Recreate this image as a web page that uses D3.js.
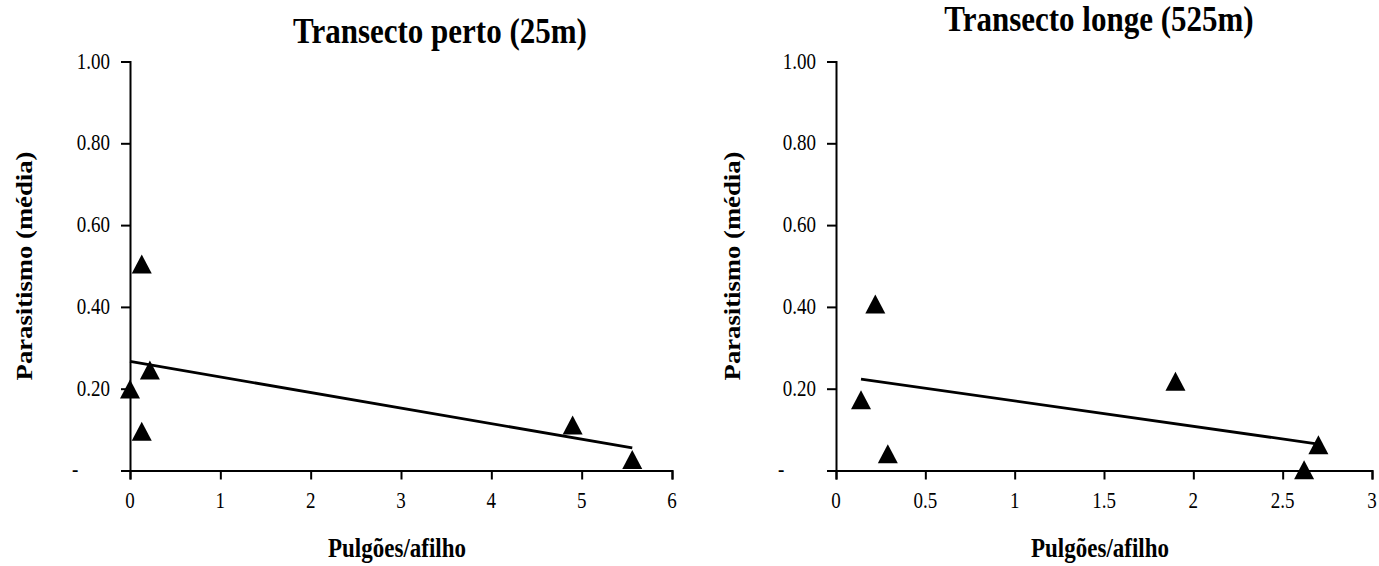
<!DOCTYPE html>
<html>
<head>
<meta charset="utf-8">
<script src="https://cdn.jsdelivr.net/npm/d3@7"></script>
<style>
  html, body { margin: 0; padding: 0; background: #fff; }
  svg { display: block; }
  text { font-family: "Liberation Serif", "Times New Roman", serif; fill: #000; }
</style>
</head>
<body>
<svg id="chart" width="1379" height="566"></svg>
<script>
// Transecto perto (25m)
const pertoX = [0.13, 0.22, 0.00, 0.13, 4.90, 5.56];
const pertoY = [0.505, 0.246, 0.199, 0.096, 0.111, 0.027];
// Transecto longe (525m)
const longeX = [0.22, 0.14, 0.29, 1.90, 2.70, 2.62];
const longeY = [0.407, 0.173, 0.041, 0.218, 0.063, 0.002];

const yTicks = [0, 0.2, 0.4, 0.6, 0.8, 1.0];
const pertoXTicks = [0, 1, 2, 3, 4, 5, 6];
const longeXTicks = [0, 0.5, 1, 1.5, 2, 2.5, 3];

const titles = ["Transecto perto (25m)", "Transecto longe (525m)"];
const xTitle = "Pulgões/afilho";
const yTitle = "Parasitismo (média)";

const svg = d3.select("#chart");
const STRETCH = 1.16; // glyphs are drawn slightly taller than wide

function label(g, x, y, txt, opts) {
  return g.append("text")
    .attr("transform", `translate(${x},${y}) scale(1,${STRETCH})` + (opts.rotate ? " rotate(-90)" : ""))
    .attr("text-anchor", opts.anchor || "middle")
    .style("font-size", opts.size + "px")
    .style("font-weight", opts.bold ? "bold" : "normal")
    .text(txt);
}

function panel(cfg) {
  const g = svg.append("g");
  const x = d3.scaleLinear().domain(cfg.xDomain).range(cfg.xRange);
  const y = d3.scaleLinear().domain([0, 1]).range([470.5, 61.5]);

  // axes
  const yAxis = d3.axisLeft(y).tickValues(yTicks).tickSize(9).tickFormat("");
  const xAxis = d3.axisBottom(x).tickValues(cfg.xTicks).tickSize(9).tickFormat("");
  const ya = g.append("g").attr("transform", `translate(${cfg.xRange[0]},0)`).call(yAxis);
  const xa = g.append("g").attr("transform", `translate(0,${y(0)})`).call(xAxis);
  [ya, xa].forEach(a => {
    a.select(".domain").attr("stroke", "#000").attr("stroke-width", 2);
    a.selectAll(".tick line").attr("stroke", "#000").attr("stroke-width", 2);
  });

  // y tick labels (zero shown as a dash)
  yTicks.forEach(v => {
    if (v === 0) {
      label(g, cfg.xRange[0] - 58, y(v) + 6, "-", { size: 19, anchor: "start" });
    } else {
      label(g, cfg.xRange[0] - 20, y(v) + 7, d3.format(".2f")(v), { size: 19, anchor: "end" });
    }
  });
  // x tick labels
  cfg.xTicks.forEach(v => {
    label(g, x(v), 508, d3.format("~g")(v), { size: 19 });
  });

  // titles
  label(g, cfg.titleX, cfg.titleY, cfg.title, { size: 31, bold: true });
  label(g, (cfg.xRange[0] + cfg.xRange[1]) / 2 - 4, 557, xTitle, { size: 23, bold: true });
  label(g, cfg.yTitleX, 266, yTitle, { size: 23, bold: true, rotate: true });

  // least-squares trend line across the data range
  const pts = cfg.xs.map((v, i) => [v, cfg.ys[i]]);
  const mX = d3.mean(cfg.xs), mY = d3.mean(cfg.ys);
  let sxy = 0, sxx = 0;
  pts.forEach(([a, b]) => { sxy += (a - mX) * (b - mY); sxx += (a - mX) * (a - mX); });
  const slope = sxy / sxx, icpt = mY - slope * mX;
  const [x0, x1] = d3.extent(cfg.xs);
  g.append("path")
    .attr("d", d3.line().x(d => x(d[0])).y(d => y(d[1]))([[x0, icpt + slope * x0], [x1, icpt + slope * x1]]))
    .attr("fill", "none").attr("stroke", "#000").attr("stroke-width", 2.8);

  // triangle markers
  const w = 20, h = 19;
  g.selectAll("path.pt").data(pts).join("path")
    .attr("class", "pt")
    .attr("d", d => {
      const cx = x(d[0]), cy = y(d[1]);
      return `M${cx},${cy - h / 2}L${cx + w / 2},${cy + h / 2}L${cx - w / 2},${cy + h / 2}Z`;
    })
    .attr("fill", "#000");
}

panel({ xs: pertoX, ys: pertoY, xDomain: [0, 6], xRange: [130, 672], xTicks: pertoXTicks,
        title: titles[0], titleX: 440, titleY: 43, yTitleX: 32 });
panel({ xs: longeX, ys: longeY, xDomain: [0, 3], xRange: [836, 1372], xTicks: longeXTicks,
        title: titles[1], titleX: 1099, titleY: 31, yTitleX: 740 });
</script>
</body>
</html>
